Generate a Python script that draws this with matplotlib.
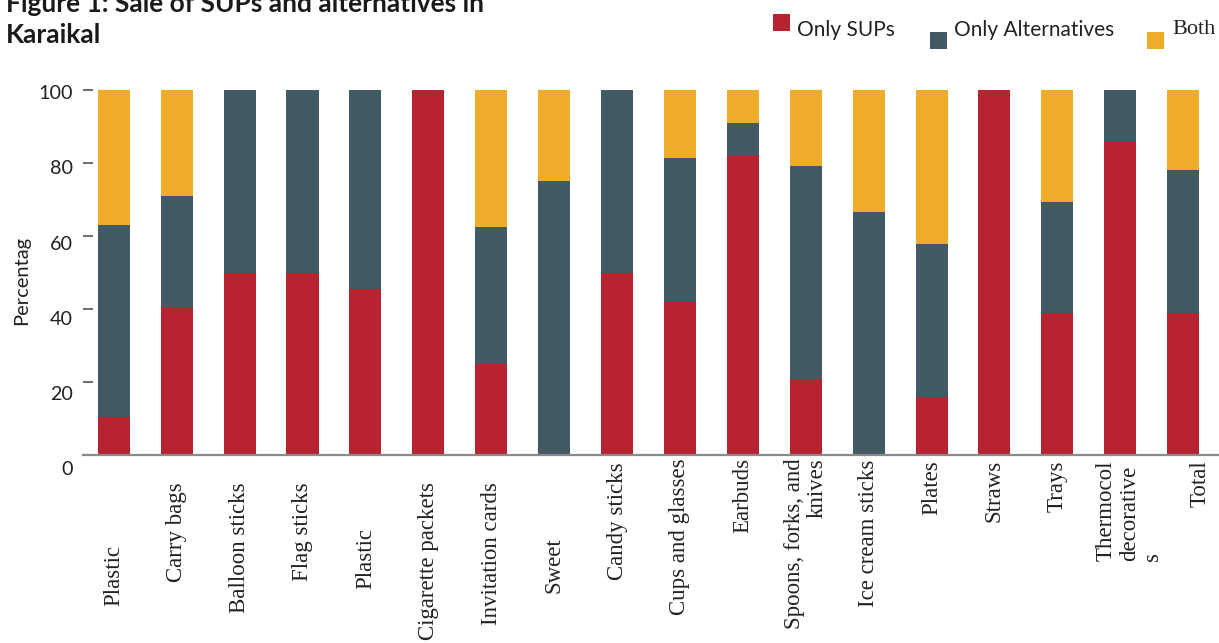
import matplotlib
matplotlib.use("Agg")
import matplotlib.pyplot as plt
from matplotlib.transforms import ScaledTranslation
from matplotlib.patches import Rectangle
import numpy as np

# ---------------- data ----------------
categories = ["Plastic", "Carry bags", "Balloon sticks", "Flag sticks", "Plastic",
              "Cigarette packets", "Invitation cards", "Sweet", "Candy sticks",
              "Cups and glasses", "Earbuds", "Spoons, forks, and\nknives",
              "Ice cream sticks", "Plates", "Straws", "Trays",
              "Thermocol\ndecorative\ns", "Total"]
only_sups = [10.5, 40.5, 50, 50, 45.5, 100, 25, 0, 50, 42, 81.8, 20.7, 0, 15.8, 100, 38.9, 85.7, 38.9]
only_alt = [52.6, 30.5, 50, 50, 54.5, 0, 37.5, 75, 50, 39.4, 9.1, 58.6, 66.7, 42.1, 0, 30.5, 14.3, 39.2]
both = [36.9, 29, 0, 0, 0, 0, 37.5, 25, 0, 18.6, 9.1, 20.7, 33.3, 42.1, 0, 30.6, 0, 21.9]
series_names = ["Only SUPs", "Only Alternatives", "Both"]
y_ticks = [0, 20, 40, 60, 80, 100]
title_lines = ["Figure 1: Sale of SUPs and alternatives in", "Karaikal"]
y_label = "Percentag"

# ---------------- style ----------------
colors = ["#B7232F", "#415A66", "#EFAC2B"]
W, H, DPI = 1219, 643, 100
SANS = ["Lato", "DejaVu Sans"]
SERIF = ["Liberation Serif", "DejaVu Serif"]

fig = plt.figure(figsize=(W / DPI, H / DPI), dpi=DPI)
ax = fig.add_axes([83 / W, 1 - 455 / H, (W - 83) / W, 365 / H])

x = np.arange(len(categories))
bottom = np.zeros(len(categories))
for vals, col, name in zip([only_sups, only_alt, both], colors, series_names):
    ax.bar(x, vals, width=0.51, bottom=bottom, color=col, label=name, zorder=2)
    bottom = bottom + np.array(vals)

ax.set_xlim(-0.49, 17.57)
ax.set_ylim(0, 100)

for s in ["top", "right", "left"]:
    ax.spines[s].set_visible(False)
ax.spines["bottom"].set_color("#8a8a8a")
ax.spines["bottom"].set_linewidth(1.6)
ax.spines["bottom"].set_zorder(3)

ax.set_yticks(y_ticks)
ax.set_yticklabels([str(v) for v in y_ticks], fontsize=14.2, family=SANS, color="#222222")
ax.tick_params(axis="y", direction="in", length=7.2, width=1.2, color="#555555", pad=7.5)

ax.set_xticks(x)
ax.set_xticklabels(categories, rotation=90, fontsize=16.5, family=SERIF, color="#222222",
                   va="top", ha="center")
ax.tick_params(axis="x", length=0, pad=2.2)

ax.set_ylabel(y_label, fontsize=14.5, family=SANS, color="#222222")
ax.yaxis.set_label_coords(-0.0537, 0.479)
ax.yaxis.label.set_va("center")

fig.canvas.draw()

# per-label offsets to mimic the reference layout (pixels: right, downward)
x_shift = [0] * 16 + [9, 17]
x_offsets = [87, 24, 24, 24, 70, 24, 24, 79, 4, 0, 0, 0, 2, 2, 2, 2, 2, 2]
x_multi = {11: "right", 16: "left"}
for i, lab in enumerate(ax.get_xticklabels()):
    lab.set_transform(lab.get_transform() +
                      ScaledTranslation(x_shift[i] / DPI, -x_offsets[i] / DPI,
                                        fig.dpi_scale_trans))
    if i in x_multi:
        lab.set_multialignment(x_multi[i])
    lab.set_linespacing(1.15)

y_offsets = [13, 11, 9, 7, 4, 2]
for i, lab in enumerate(ax.get_yticklabels()):
    lab.set_transform(lab.get_transform() +
                      ScaledTranslation(0, -y_offsets[i] / DPI, fig.dpi_scale_trans))

# title (cut at the top like the reference)
fig.text(6 / W, 1 - 12 / H, title_lines[0], fontsize=19, fontweight="bold",
         family=SANS, color="#1a1a1a", va="baseline", ha="left")
fig.text(6 / W, 1 - 43 / H, title_lines[1], fontsize=19, fontweight="bold",
         family=SANS, color="#1a1a1a", va="baseline", ha="left")

# legend (staggered like the reference)
sq = 17
leg_boxes = [(773, 14), (930, 32), (1147, 32)]
leg_text = [(797, 36, SANS, 15), (954, 36, SANS, 15), (1172, 34, SERIF, 16)]
for (bx, by), (tx, ty, fam, fs), col, name in zip(leg_boxes, leg_text, colors, series_names):
    fig.patches.append(Rectangle((bx / W, 1 - (by + sq) / H), sq / W, sq / H,
                                 transform=fig.transFigure, facecolor=col, edgecolor="none"))
    fig.text(tx / W, 1 - ty / H, name, fontsize=fs, family=fam, color="#222222",
             va="baseline", ha="left")

fig.savefig("out.png", dpi=DPI)
